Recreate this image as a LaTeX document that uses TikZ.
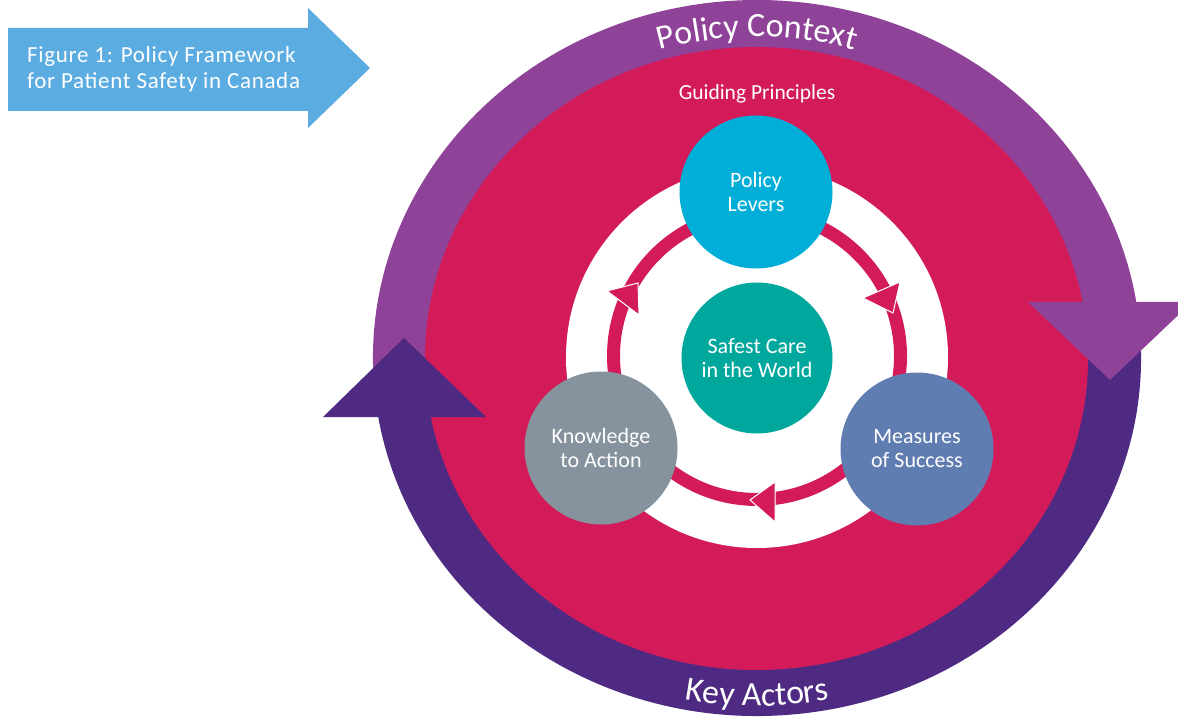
\documentclass[tikz,border=0pt]{standalone}
\usepackage{fontspec}
\setmainfont{Carlito}
\newfontfamily\titlefont[LetterSpace=3]{Carlito}
\usetikzlibrary{calc,decorations.text}

\definecolor{figblue}{HTML}{5BACE0}
\definecolor{ctxpurple}{HTML}{8E4298}
\definecolor{actpurple}{HTML}{4E2A82}
\definecolor{guidepink}{HTML}{D31B5A}
\definecolor{leverblue}{HTML}{00AED8}
\definecolor{careteal}{HTML}{00A79D}
\definecolor{measureblue}{HTML}{607DB2}
\definecolor{knowgrey}{HTML}{86929E}

\newcommand\ringfont{\fontsize{34}{34}\selectfont}

\begin{document}
\begin{tikzpicture}[x=1pt,y=1pt,
  stage/.style={circle, minimum size=153pt, inner sep=0pt, text=white, align=center,
    font=\fontsize{22}{24}\selectfont},
  tip/.style={fill=guidepink, draw=white, line width=1pt}]
  \useasboundingbox (0,0) rectangle (1178,716);
  \clip (0,0) rectangle (1178,716);

  % title arrow
  \fill[figblue] (8,688) -- (308,688) -- (308,708) -- (370,648) -- (308,588) -- (308,605) -- (8,605) -- cycle;
  \node[anchor=west, inner sep=0pt, text=white, align=left, font=\titlefont\fontsize{23}{26}\selectfont]
    (title) at (27,647) {Figure 1: Policy Framework\\for Patient Safety in Canada};

  \coordinate (c) at (757,358);

  % outer bands
  \fill[ctxpurple] ($(c)+(189:384pt and 358pt)$) arc[start angle=189, end angle=8, x radius=384pt, y radius=358pt]
    -- ($(c)+(8:325pt and 305pt)$) arc[start angle=8, end angle=189, x radius=325pt, y radius=305pt] -- cycle;
  \fill[actpurple] ($(c)+(8:384pt and 358pt)$) arc[start angle=8, end angle=-171, x radius=384pt, y radius=358pt]
    -- ($(c)+(-171:325pt and 305pt)$) arc[start angle=-171, end angle=8, x radius=325pt, y radius=305pt] -- cycle;

  \fill[guidepink] (756.5,357.5) ellipse [x radius=331.5pt, y radius=311.5pt];

  \path[decorate, decoration={text along path, text align=center, text color=white, text={|\ringfont|Policy Context}}]
    ($(c)+(150:346pt and 321pt)$) arc[start angle=150, end angle=30, x radius=346pt, y radius=321pt];
  \path[decorate, decoration={text along path, text align=center, text color=white, text={|\ringfont|Key Actors}}]
    ($(c)+(235:374pt and 348pt)$) arc[start angle=235, end angle=305, x radius=374pt, y radius=348pt];

  % arrow heads of the bands
  \fill[ctxpurple] (1028,414) -- (1192,414) -- (1110,336) -- cycle;
  \fill[actpurple] (323,299) -- (486,299) -- (404,378) -- cycle;

  \node[anchor=base, text=white, font=\fontsize{21.5}{24}\selectfont] (guide) at (757,616) {Guiding Principles};

  % inner cycle
  \fill[white] (757,359) circle[radius=191pt];
  \coordinate (hub) at (757,360);
  \draw[guidepink, line width=13pt] (hub) circle[radius=143.5pt];
  \foreach \ax/\ay/\bx/\by/\cx/\cy in {607/425/638/433/639/401, 863/418/900/434/893/403, 750/216/775/234/775/194}
    \filldraw[tip] (\ax,\ay) -- (\bx,\by) -- (\cx,\cy) -- cycle;

  \node[stage, fill=leverblue] (levers) at (756,524) {Policy\\Levers};
  \node[stage, fill=careteal, minimum size=151pt] (care) at (757,358) {Safest Care\\in the World};
  \node[stage, fill=knowgrey] (knowledge) at (601,268) {Knowledge\\to Action};
  \node[stage, fill=measureblue] (measures) at (917,267) {Measures\\of Success};
\end{tikzpicture}
\end{document}
